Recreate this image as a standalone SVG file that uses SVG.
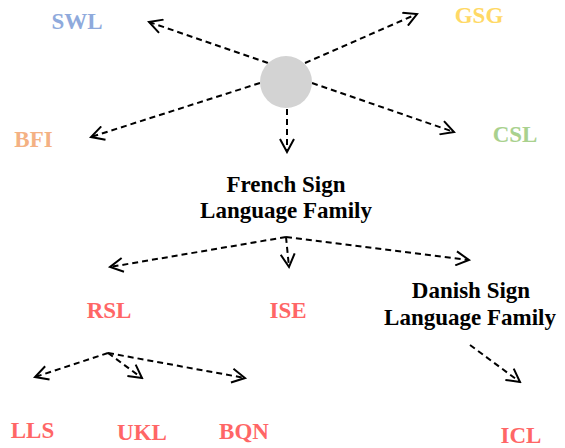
<svg xmlns="http://www.w3.org/2000/svg" width="565" height="448" viewBox="0 0 565 448">
<defs>
<marker id="ah" viewBox="0 0 16 16" refX="14" refY="8" markerWidth="16" markerHeight="16" markerUnits="userSpaceOnUse" orient="auto">
<path d="M1,1 L14,8 L1,15" fill="none" stroke="#000" stroke-width="2"/>
</marker>
<style>
.e{fill:none;stroke:#000;stroke-width:2;stroke-dasharray:6,4;marker-end:url(#ah)}
text{font-family:"Liberation Serif","Times New Roman",serif;font-weight:bold;font-size:23px;text-anchor:middle}
.r{fill:#ff6666}
.k{fill:#000}
</style>
</defs>
<rect width="565" height="448" fill="#fff"/>
<g id="connectors">
<line class="e" x1="268" y1="63" x2="149" y2="22"/>
<line class="e" x1="305" y1="63" x2="417" y2="14"/>
<line class="e" x1="260" y1="83" x2="91" y2="137"/>
<line class="e" x1="312" y1="83" x2="454" y2="132"/>
<line class="e" x1="287" y1="109" x2="287" y2="152"/>
<line class="e" x1="286" y1="237" x2="110" y2="267"/>
<line class="e" x1="286" y1="237" x2="289" y2="267"/>
<line class="e" x1="286" y1="237" x2="469" y2="260"/>
<line class="e" x1="108" y1="353" x2="35" y2="377"/>
<line class="e" x1="108" y1="353" x2="142" y2="378"/>
<line class="e" x1="108" y1="353" x2="245" y2="378"/>
<line class="e" x1="470" y1="345" x2="520" y2="382"/>
</g>
<g id="center"><circle cx="286" cy="82" r="26" fill="#d3d3d3"/></g>
<g id="SWL"><text x="77" y="29" fill="#8faadc">SWL</text></g>
<g id="GSG"><text x="479" y="23" fill="#ffd966">GSG</text></g>
<g id="BFI"><text x="33.5" y="147" fill="#f4b183">BFI</text></g>
<g id="CSL"><text x="515" y="142" fill="#a9d18e">CSL</text></g>
<g id="french"><text class="k" x="286" y="192">French Sign</text><text class="k" x="286" y="218">Language Family</text></g>
<g id="danish"><text class="k" x="471" y="298">Danish Sign</text><text class="k" x="470" y="325">Language Family</text></g>
<g id="RSL"><text class="r" x="109" y="318">RSL</text></g>
<g id="ISE"><text class="r" x="288" y="318">ISE</text></g>
<g id="LLS"><text class="r" x="32.5" y="438">LLS</text></g>
<g id="UKL"><text class="r" x="142" y="440">UKL</text></g>
<g id="BQN"><text class="r" x="244" y="439">BQN</text></g>
<g id="ICL"><text class="r" x="521" y="443">ICL</text></g>
</svg>
